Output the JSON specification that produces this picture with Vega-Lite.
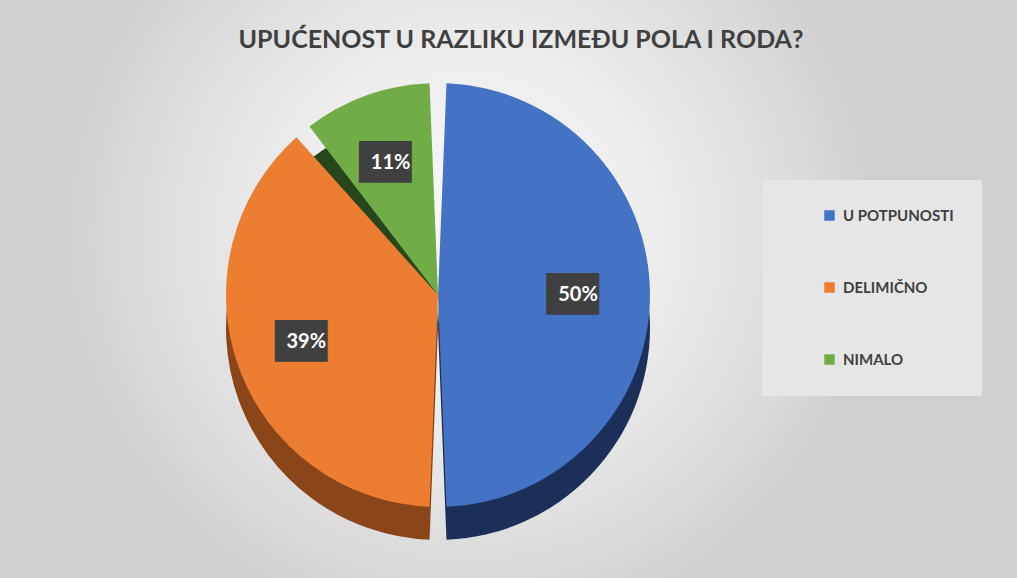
{
  "$schema": "https://vega.github.io/schema/vega-lite/v6.json",
  "width": 876,
  "height": 590,
  "autosize": {"type": "none"},
  "padding": {"left": 0, "top": 0, "right": 141, "bottom": 0},
  "background": "#d0d0d0",
  "title": {
    "text": "UPUĆENOST U RAZLIKU IZMEĐU POLA I RODA?",
    "font": "Lato",
    "fontSize": 25,
    "fontWeight": "bold",
    "color": "#404040",
    "anchor": "middle",
    "frame": "group",
    "offset": -53,
    "dx": 83
  },
  "layer": [
    {
      "data": {"values": [{"bg": 1}]},
      "mark": {
        "type": "rect",
        "color": {
          "gradient": "radial",
          "x1": 0.535, "y1": 0.43, "r1": 0,
          "x2": 0.535, "y2": 0.43, "r2": 0.465,
          "stops": [
            {"offset": 0, "color": "#f9f9f9"},
            {"offset": 0.45, "color": "#ededed"},
            {"offset": 0.85, "color": "#d9d9d9"},
            {"offset": 1, "color": "#d0d0d0"}
          ]
        }
      },
      "encoding": {}
    },
    {
      "data": {
        "values": [
          {"category": "U POTPUNOSTI", "value": 50, "label": "50%", "idx": 1},
          {"category": "DELIMIČNO", "value": 39, "label": "39%", "idx": 2},
          {"category": "NIMALO", "value": 11, "label": "11%", "idx": 3}
        ]
      },
      "encoding": {
        "theta": {"field": "value", "type": "quantitative", "stack": true},
        "order": {"field": "idx", "type": "quantitative"}
      },
      "layer": [
        {
          "mark": {"type": "arc", "outerRadius": 212, "padAngle": 0.08, "yOffset": 33},
          "encoding": {
            "color": {
              "field": "category",
              "type": "nominal",
              "scale": {"domain": ["U POTPUNOSTI", "DELIMIČNO", "NIMALO"], "range": ["#1c2f58", "#8a4519", "#28461b"]},
              "legend": null
            }
          }
        },
        {
          "mark": {"type": "arc", "outerRadius": 212, "padAngle": 0.08},
          "encoding": {
            "color": {
              "field": "category",
              "type": "nominal",
              "scale": {"domain": ["U POTPUNOSTI", "DELIMIČNO", "NIMALO"], "range": ["#4472C4", "#ED7D31", "#70AD47"]},
              "legend": {
                "orient": "none",
                "legendX": 762,
                "legendY": 180,
                "title": null,
                "symbolType": "square",
                "symbolSize": 110,
                "symbolStrokeWidth": 0,
                "symbolOffset": 32,
                "labelFont": "Lato",
                "labelFontSize": 15,
                "labelFontWeight": "bold",
                "labelColor": "#404040",
                "labelOffset": 6,
                "rowPadding": 56,
                "padding": 28,
                "fillColor": "#e6e6e6"
              }
            }
          }
        },
        {
          "mark": {"type": "text", "radius": 140, "font": "DejaVu Sans Mono", "fontSize": 35, "fill": "#404040", "text": "██▌", "baseline": "middle"},
          "encoding": {}
        },
        {
          "mark": {"type": "text", "radius": 140, "font": "Lato", "fontSize": 20, "fontWeight": "bold", "fill": "#ffffff", "baseline": "middle"},
          "encoding": {"text": {"field": "label", "type": "nominal"}}
        }
      ],
      "resolve": {"scale": {"color": "independent"}}
    }
  ],
  "config": {"view": {"stroke": null}}
}
